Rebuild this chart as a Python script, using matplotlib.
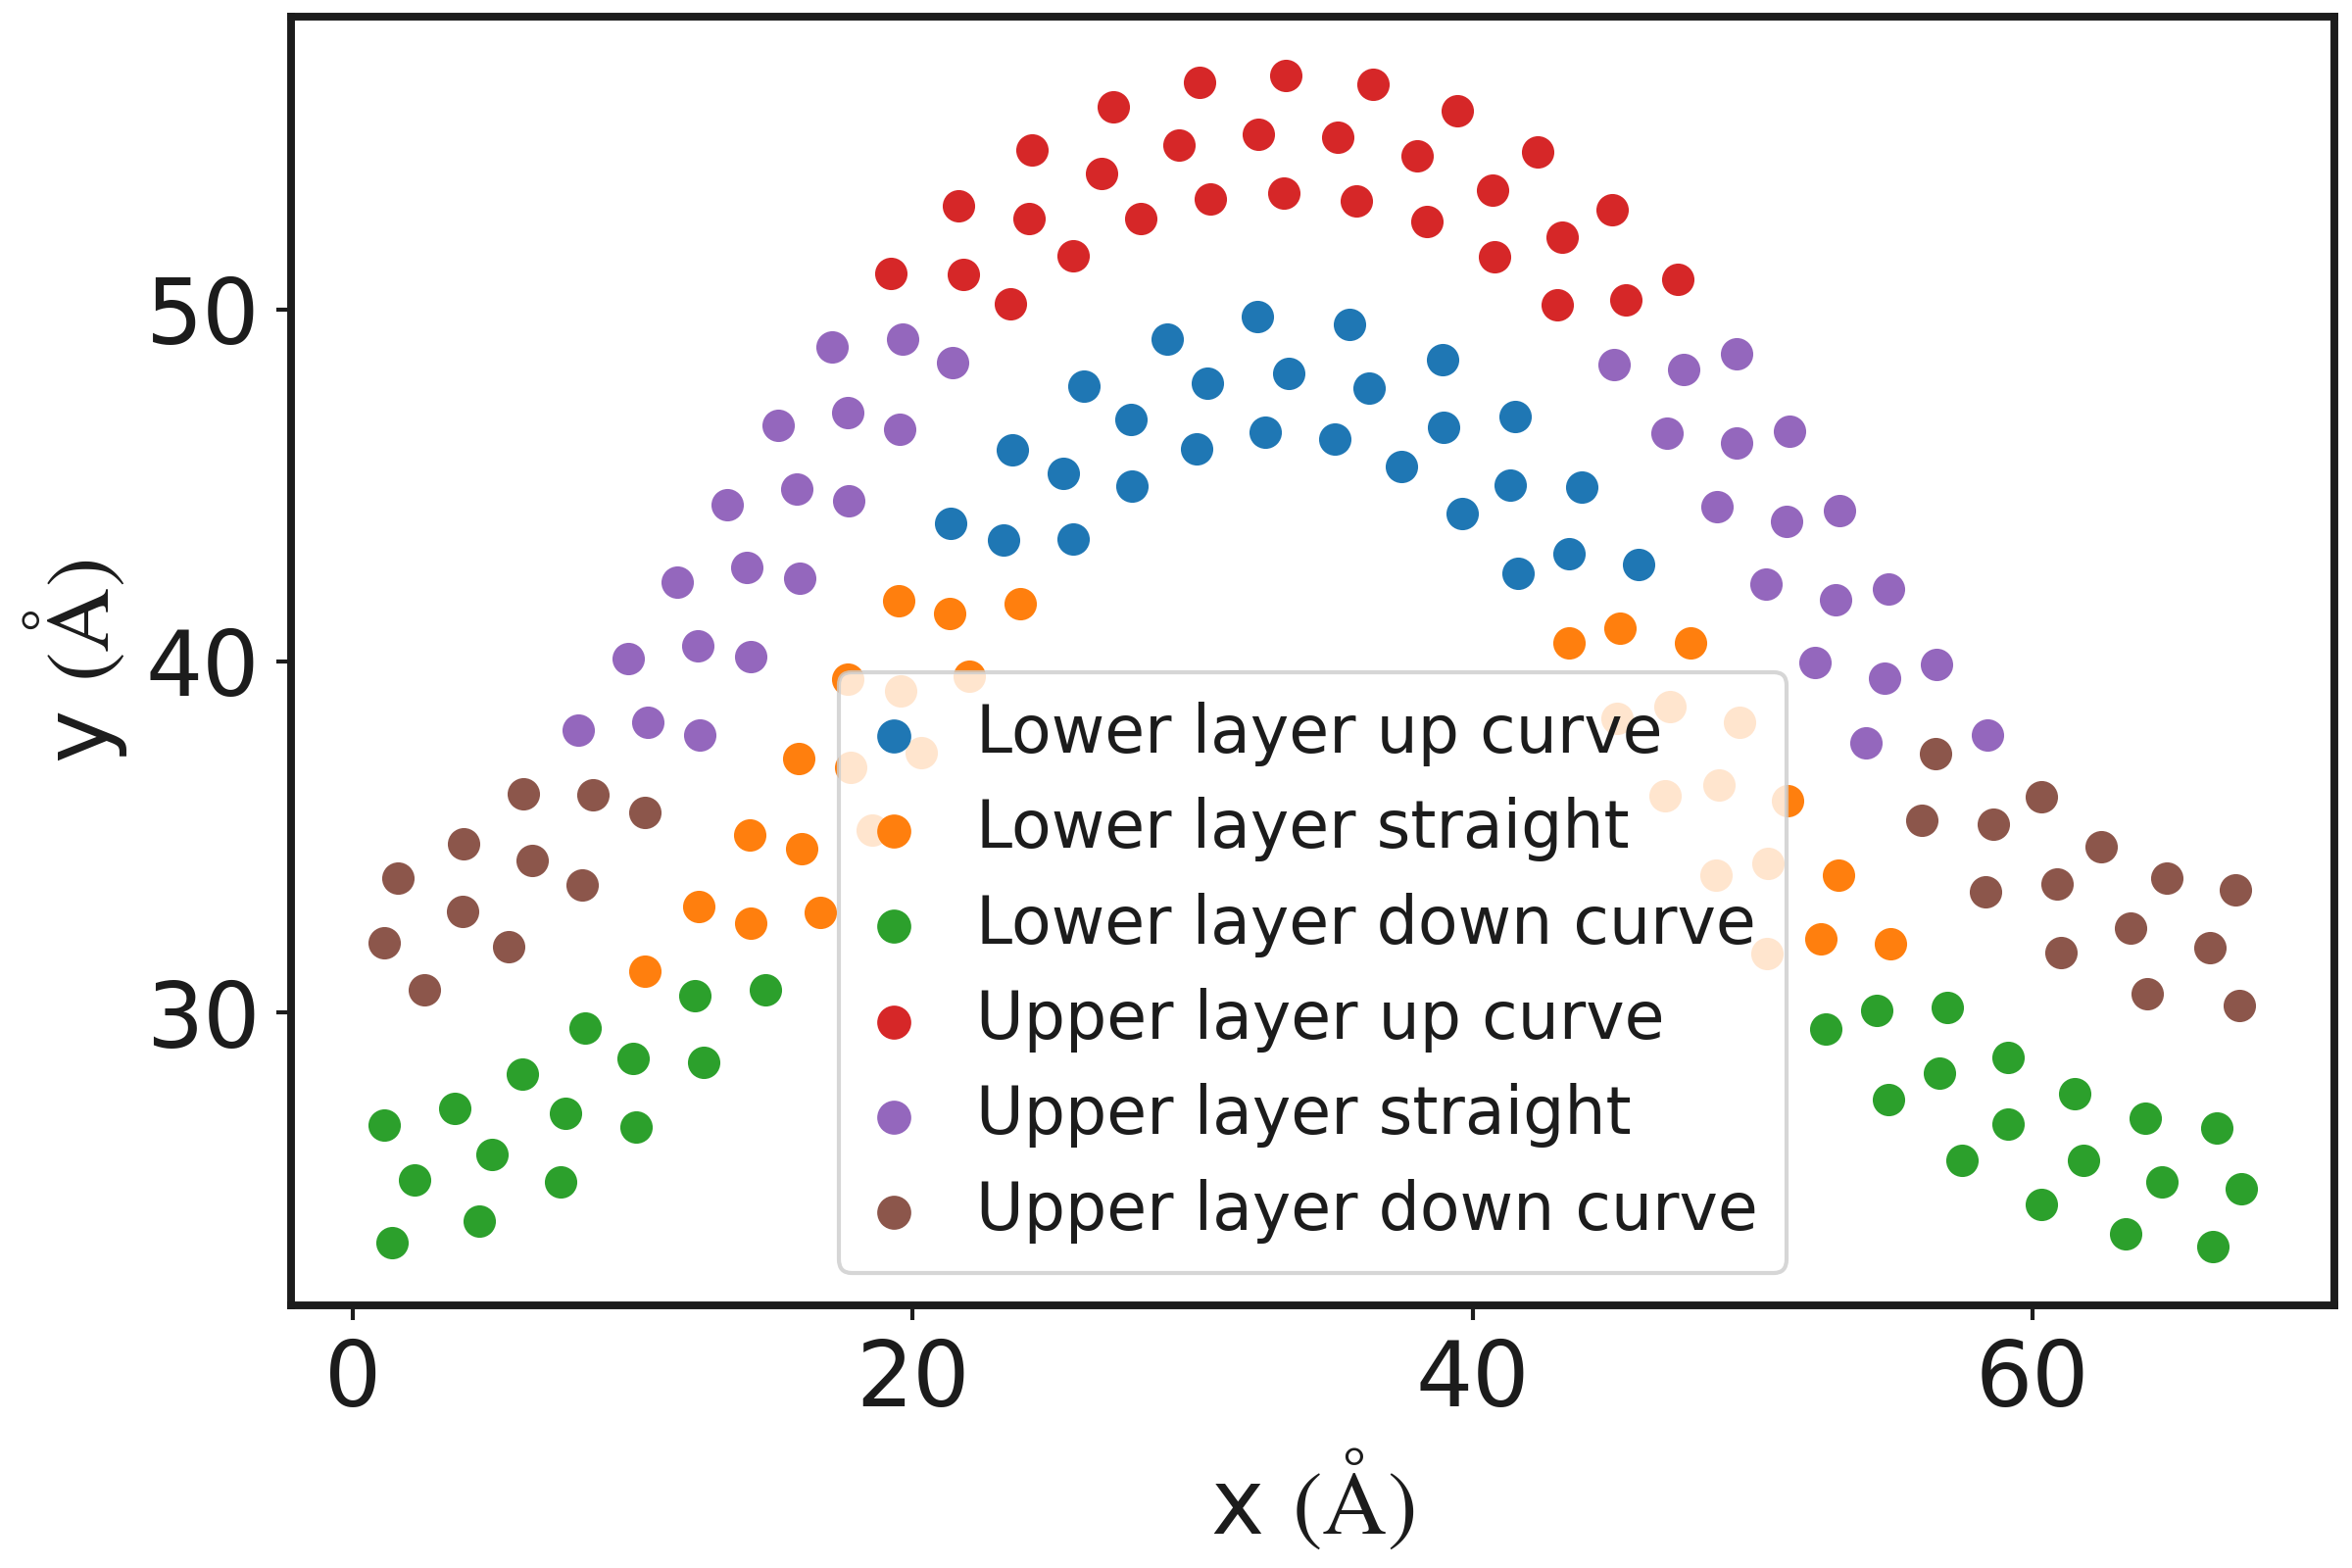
import matplotlib
matplotlib.use("Agg")
import matplotlib.pyplot as plt

# ---- data (x, y in Å) ----
lower_up_x = [32.31, 35.61, 29.09, 38.92, 33.41, 30.52, 26.10, 36.29, 41.52, 27.80,
              38.95, 32.59, 35.07, 23.56, 30.13, 37.45, 41.32, 43.88, 25.38, 27.83,
              39.63, 21.36, 23.24, 25.74, 43.43, 41.60, 45.91]
lower_up_y = [49.81, 49.59, 49.17, 48.58, 48.20, 47.90, 47.83, 47.77, 46.96, 46.89,
              46.65, 46.52, 46.32, 46.01, 46.03, 45.53, 45.00, 44.95, 45.35, 44.99,
              44.21, 43.91, 43.45, 43.47, 43.06, 42.50, 42.76]

lower_straight_x = [19.50, 21.32, 23.84, 17.68, 19.55, 22.01, 15.91, 17.78, 20.30, 14.17,
                    16.01, 18.53, 12.35, 14.19, 16.68, 10.42,
                    43.44, 45.26, 47.78, 45.15, 47.03, 49.54, 46.87, 48.79, 51.26,
                    48.69, 50.56, 53.07, 50.51, 52.44, 54.93]
lower_straight_y = [41.71, 41.37, 41.63, 39.49, 39.15, 39.58, 37.23, 36.97, 37.40, 35.06,
                    34.67, 35.19, 33.01, 32.54, 32.86, 31.18,
                    40.52, 40.94, 40.52, 38.38, 38.72, 38.25, 36.17, 36.47, 36.04,
                    33.91, 34.25, 33.91, 31.69, 32.11, 31.95]

lower_down_x = [8.30, 12.20, 14.73, 6.04, 10.00, 12.53, 1.11, 3.63, 7.58, 10.11,
                4.98, 2.21, 7.43, 4.50, 1.41,
                52.60, 54.44, 56.94, 54.86, 56.66, 59.11, 57.47, 59.13, 61.49,
                60.32, 61.81, 64.01, 63.33, 64.60, 66.59, 66.42, 67.46]
lower_down_y = [29.56, 30.49, 30.66, 28.25, 28.70, 28.59, 26.81, 27.28, 27.13, 26.74,
                25.97, 25.24, 25.19, 24.06, 23.46,
                29.53, 30.07, 30.16, 27.53, 28.28, 28.74, 25.81, 26.83, 27.70,
                24.54, 25.80, 27.01, 23.72, 25.18, 26.72, 23.34, 24.99]

upper_up_x = [30.24, 33.33, 36.43, 27.17, 39.45, 24.27, 29.51, 32.34, 35.19, 38.02,
              42.31, 26.75, 40.70, 21.63, 24.15, 28.13, 30.63, 33.24, 35.83, 38.36,
              44.98, 43.20, 25.74, 40.79, 19.22, 21.80, 47.31, 23.50, 43.01, 45.47]
upper_up_y = [56.48, 56.67, 56.41, 55.78, 55.66, 54.55, 54.68, 55.00, 54.90, 54.37,
              54.48, 53.87, 53.41, 52.95, 52.60, 52.59, 53.16, 53.33, 53.10, 52.50,
              52.84, 52.07, 51.54, 51.51, 51.04, 51.01, 50.87, 50.17, 50.15, 50.29]

upper_straight_x = [17.11, 19.62, 21.42, 15.18, 17.66, 19.53, 13.35, 15.84, 17.71, 11.57,
                    14.07, 15.96, 9.82, 12.32, 14.21, 8.03, 10.52, 12.39,
                    45.04, 47.54, 49.41, 46.93, 49.43, 51.32, 48.73, 51.22, 53.11,
                    50.48, 52.95, 54.84, 52.23, 54.70, 56.57, 54.04, 58.38]
upper_straight_y = [48.93, 49.15, 48.50, 46.72, 47.07, 46.61, 44.46, 44.90, 44.55, 42.24,
                    42.67, 42.35, 40.07, 40.44, 40.12, 38.03, 38.25, 37.89,
                    48.45, 48.31, 48.75, 46.49, 46.20, 46.55, 44.40, 43.99, 44.29,
                    42.20, 41.74, 42.06, 39.96, 39.51, 39.90, 37.69, 37.89]

upper_down_x = [6.08, 8.57, 10.43, 3.96, 6.41, 1.61, 8.19, 3.91, 1.12, 5.57, 2.56,
                56.54, 56.05, 58.58, 60.31, 62.44, 58.33, 60.88, 64.78, 67.25,
                63.49, 61.02, 66.34, 64.08, 67.37]
upper_down_y = [36.22, 36.19, 35.70, 34.80, 34.33, 33.84, 33.62, 32.88, 32.00, 31.88, 30.65,
                37.36, 35.48, 35.36, 36.14, 34.72, 33.44, 33.66, 33.82, 33.50,
                32.41, 31.71, 31.84, 30.55, 30.20]

labels = ["Lower layer up curve", "Lower layer straight", "Lower layer down curve",
          "Upper layer up curve", "Upper layer straight", "Upper layer down curve"]
colors = ["#1f77b4", "#ff7f0e", "#2ca02c", "#d62728", "#9467bd", "#8c564b"]

series = [(lower_up_x, lower_up_y), (lower_straight_x, lower_straight_y),
          (lower_down_x, lower_down_y), (upper_up_x, upper_up_y),
          (upper_straight_x, upper_straight_y), (upper_down_x, upper_down_y)]

dark = "#1c1c1c"
plt.rcParams["mathtext.fontset"] = "stix"
plt.rcParams["font.family"] = ["DejaVu Sans"]
plt.rcParams["text.color"] = dark
plt.rcParams["axes.labelcolor"] = dark

fig = plt.figure(figsize=(8, 16 / 3), dpi=300)
ax = fig.add_axes([0.1238, 0.1675, 0.9925 - 0.1238, 0.9894 - 0.1675])

for (xs, ys), lab, c in zip(series, labels, colors):
    ax.scatter(xs, ys, s=63, color=c, label=lab, linewidths=0)

for sp in ax.spines.values():
    sp.set_linewidth(1.9)
    sp.set_color(dark)

ax.tick_params(axis="both", labelsize=22, length=3.6, width=1.0,
               color=dark, labelcolor=dark, pad=4)
ax.set_xticks([0, 20, 40, 60])
ax.set_yticks([30, 40, 50])

ax.set_xlabel(r"x $(\mathrm{\AA})$", fontsize=22, labelpad=5.5)
ax.set_ylabel(r"y $(\mathrm{\AA})$", fontsize=22, labelpad=4)

leg = ax.legend(loc="lower center", fontsize=16, handlelength=0.8,
                handletextpad=0.85, labelspacing=0.47, borderpad=0.45,
                scatterpoints=1, framealpha=0.8, markerscale=1.05)
leg.get_frame().set_linewidth(1.0)
leg.get_frame().set_edgecolor("0.8")
for t in leg.get_texts():
    t.set_color(dark)

fig.savefig("out.png", dpi=300)
